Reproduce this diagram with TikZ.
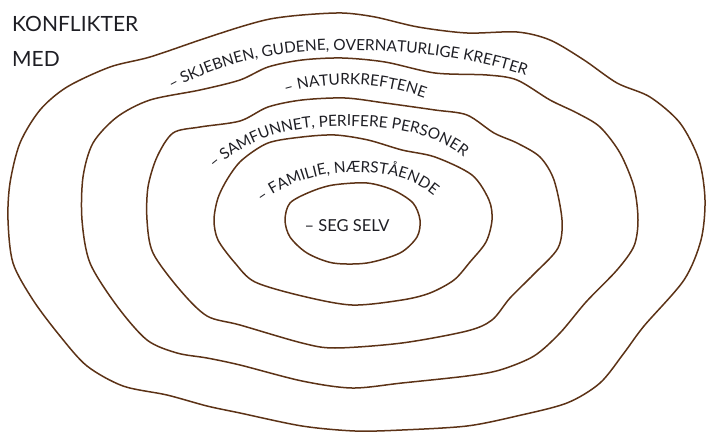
\documentclass[tikz,border=0pt]{standalone}
\usepackage{fontspec}
\setmainfont{Lato}
\usepackage{tikz}
\usetikzlibrary{positioning, decorations.text}
\usepackage{xcolor}

\definecolor{ringbrown}{RGB}{92,50,22}
\definecolor{inkgray}{RGB}{30,30,36}
\newfontfamily\labelfont{Lato}
\newcommand{\ringtext}{\labelfont\fontsize{15.4}{18}\selectfont}

\tikzset{
    ring/.style={draw=ringbrown, line width=1.5pt},
    ringlabel/.style={decorate, decoration={text along path, text align=center, text color=inkgray}},
}

\begin{document}
\begin{tikzpicture}[x=1pt, y=-1pt]
\useasboundingbox (0,0) rectangle (707,433);

% title
\node[anchor=base west, font=\fontsize{21}{25}\selectfont, text=inkgray, inner sep=0pt] (konflikter) at (12,32) {KONFLIKTER};
\node[anchor=base west, font=\fontsize{21}{25}\selectfont, text=inkgray, inner sep=0pt] (med) at (12,67) {MED};

% rings, outer to inner
\draw[ring] plot[smooth cycle] coordinates {(8,220) (10,183) (20,143) (40,110) (67,87) (110,67) (150,57) (200,40) (240,27) (270,19) (302,15) (342,13) (375,17) (418,27) (467,33) (517,32) (550,40) (584,60) (617,83) (650,97) (680,123) (699,160) (705,200) (701,240) (684,280) (644,326) (624,353) (600,383) (567,403) (517,416) (467,426) (402,430) (355,431) (302,426) (240,413) (207,406) (167,395) (123,386) (87,366) (60,336) (33,300) (13,263)};
\draw[ring] plot[smooth cycle] coordinates {(82,220) (83,177) (93,143) (117,117) (150,100) (200,90) (240,80) (268,67) (302,60) (342,58) (385,62) (435,73) (487,75) (517,80) (550,100) (577,113) (600,127) (620,153) (634,187) (638,220) (634,246) (617,270) (586,302) (560,333) (534,356) (500,370) (467,376) (402,383) (352,388) (302,381) (240,365) (207,358) (177,353) (147,340) (117,306) (90,263)};
\draw[ring] plot[smooth cycle] coordinates {(147,220) (148,187) (157,157) (173,133) (200,127) (240,121) (268,107) (302,100) (345,98) (385,103) (435,110) (467,115) (494,133) (517,143) (540,157) (554,180) (562,220) (558,248) (534,274) (510,298) (492,320) (467,331) (402,343) (335,348) (302,343) (240,325) (207,316) (180,290) (153,253)};
\draw[ring] plot[smooth cycle] coordinates {(214,220) (218,198) (228,178) (242,160) (268,143) (302,137) (335,135) (368,140) (402,150) (435,157) (472,175) (489,200) (492,220) (486,242) (470,262) (454,280) (430,293) (402,300) (352,305) (302,296) (255,282) (235,263) (218,240)};
\draw[ring] plot[smooth cycle] coordinates {(285,220) (290,203) (310,192) (333,185) (367,183) (393,190) (413,203) (420,220) (417,237) (400,253) (367,263) (333,263) (307,253) (290,237)};

% curved labels
\path[ringlabel, decoration={text={|\ringtext|– SKJEBNEN, GUDENE, OVERNATURLIGE KREFTER}}]
    (166,93) .. controls (215,65) and (270,50) .. (340,50) .. controls (420,50) and (482,60) .. (532,78);
\path[ringlabel, decoration={text={|\ringtext|– NATURKREFTENE}}]
    (286,93) .. controls (330,80) and (380,82) .. (424,98);
\path[ringlabel, decoration={text={|\ringtext|– SAMFUNNET, PERIFERE PERSONER}}]
    (206,176) .. controls (250,135) and (290,127) .. (345,126) .. controls (400,126) and (442,135) .. (472,164);
\path[ringlabel, decoration={text={|\ringtext|– FAMILIE, NÆRSTÅENDE}}]
    (250,211) .. controls (285,182) and (320,172) .. (355,172) .. controls (395,172) and (424,182) .. (444,206);
\node[anchor=base, font=\labelfont\fontsize{16.5}{19}\selectfont, text=inkgray, inner sep=0pt] (segselv) at (347,231) {– SEG SELV};

\end{tikzpicture}
\end{document}
